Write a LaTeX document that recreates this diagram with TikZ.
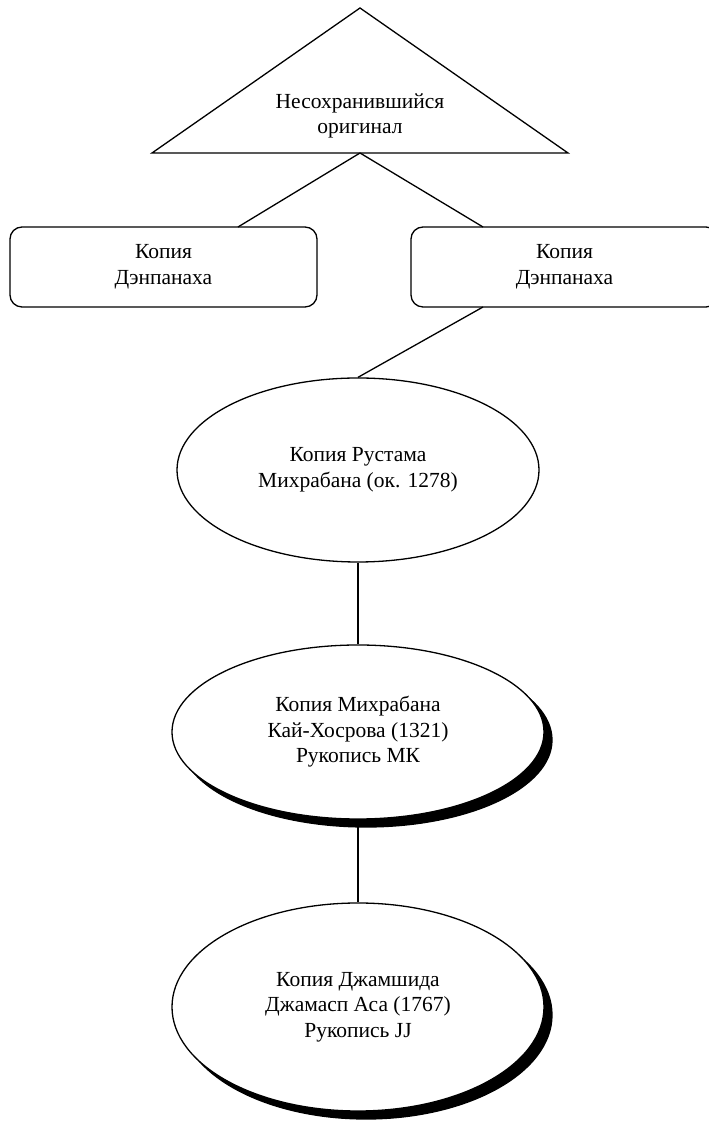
\documentclass[tikz,border=0pt]{standalone}
\usepackage{fontspec}
\setmainfont{Liberation Serif}
\usetikzlibrary{shapes.geometric}
\begin{document}
\begin{tikzpicture}[x=1pt,y=1pt,line width=1.3pt,
  lbl/.style={align=center,font=\fontsize{21.5}{25.5}\selectfont},
  copybox/.style={draw,rounded corners=12pt,minimum width=307pt,minimum height=80pt,lbl},
  oval/.style={draw,ellipse,fill=white,lbl,inner sep=0pt},
  shadowoval/.style={draw,ellipse,fill=black,inner sep=0pt}]
\useasboundingbox (0,0) rectangle (709,1122);
% triangle
\coordinate (apex) at (360,1114);
\coordinate (bl) at (152,969);
\coordinate (br) at (568,969);
\coordinate (tb) at (360,969);
\draw[line join=miter] (apex) -- (br) -- (bl) -- cycle;
\node[lbl] (T) at (360,1006) {Несохранившийся\\оригинал};
% boxes
\node[copybox] (L) at (163.5,855) {Копия\\Дэнпанаха};
\node[copybox] (R) at (564.5,855) {Копия\\Дэнпанаха};
\coordinate (Lin) at (238,895);
\coordinate (Rin) at (483,895);
\coordinate (Rout) at (483,815);
\draw (tb) -- (Lin);
\draw (tb) -- (Rin);
% ellipse 1
\node[oval,minimum width=362pt,minimum height=184pt] (E1) at (358,652) {Копия Рустама\\Михрабана (ок. 1278)};
\draw (Rout) -- (E1.north);
% ellipse 2 with shadow
\node[shadowoval,minimum width=372pt,minimum height=174pt] (S2) at (366,382) {};
\node[oval,minimum width=372pt,minimum height=174pt] (E2) at (358,390) {Копия Михрабана\\Кай-Хосрова (1321)\\Рукопись МК};
\draw (E1.south) -- (E2.north);
% ellipse 3 with shadow
\node[shadowoval,minimum width=372pt,minimum height=208pt] (S3) at (366,107) {};
\node[oval,minimum width=372pt,minimum height=208pt] (E3) at (358,115) {Копия Джамшида\\Джамасп Аса (1767)\\Рукопись JJ};
\draw (E2.south) -- (E3.north);
\end{tikzpicture}
\end{document}
